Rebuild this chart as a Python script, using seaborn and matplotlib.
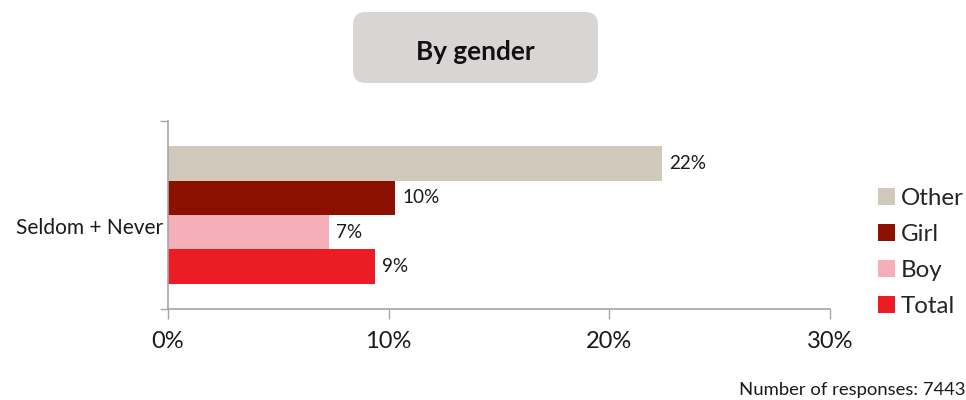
# Горизонтальні стовпці: "Seldom + Never" за статтю
import pandas as pd
import matplotlib.pyplot as plt
import seaborn as sns
from matplotlib.patches import FancyBboxPatch
from matplotlib.ticker import FuncFormatter

# Дані
categories = ['Seldom + Never']
groups = ['Other', 'Girl', 'Boy', 'Total']
values = [22.4, 10.3, 7.3, 9.4]
colors = ['#d0c9bb', '#8b1000', '#f4afb9', '#ec1c24']
n_responses = 7443

df = pd.DataFrame({'category': categories * len(groups), 'group': groups, 'value': values})

sns.set_style('white')
plt.rcParams['font.family'] = ['Lato', 'DejaVu Sans']

fig = plt.figure(figsize=(9.66, 4), dpi=100)
ax = fig.add_axes([0.1739, 0.2275, 0.6853, 0.4705])

sns.barplot(data=df, x='value', y='category', hue='group', hue_order=groups,
            palette=colors, orient='h', width=0.73, saturation=1, linewidth=0, ax=ax)

# підписи значень
for cont, v in zip(ax.containers, values):
    ax.bar_label(cont, labels=[f'{round(v)}%'], padding=5, fontsize=13.6, color='#1a1a1a')

ax.set_xlim(0, 30)
ax.set_ylim(0.5, -0.5)
ax.set_xticks([0, 10, 20, 30])
ax.xaxis.set_major_formatter(FuncFormatter(lambda x, p: f'{x:.0f}%'))
ax.tick_params(axis='x', bottom=True, labelsize=17, length=7, width=1, color='#a6a6a6',
               pad=9, labelcolor='#1a1a1a')

ax.set_yticks([-0.5, 0.5])
ax.set_yticklabels([])
ax.tick_params(axis='y', left=True, length=6, width=1, color='#a6a6a6')
ax.text(-0.008, 0.43, categories[0], transform=ax.transAxes, ha='right', va='center',
        fontsize=15, color='#1a1a1a')

ax.set_xlabel('')
ax.set_ylabel('')
sns.despine(ax=ax)
for s in ['left', 'bottom']:
    ax.spines[s].set_color('#a6a6a6')
    ax.spines[s].set_linewidth(1.2)

# легенда
handles, labels = ax.get_legend_handles_labels()
ax.legend_.remove()
fig.legend(handles, labels, loc='center left', bbox_to_anchor=(0.899, 0.369), frameon=False,
           fontsize=17.4, handlelength=0.7, handleheight=0.7, handletextpad=0.25,
           labelspacing=0.62, borderaxespad=0)

# заголовок у сірому прямокутнику
box = FancyBboxPatch((3.53, 3.17), 2.45, 0.71, boxstyle='round,pad=0,rounding_size=0.13',
                     transform=fig.dpi_scale_trans, facecolor='#d9d5d5', edgecolor='none')
fig.patches.append(box)
fig.text(4.755, 3.405, 'By gender', transform=fig.dpi_scale_trans, ha='center', va='baseline',
         fontsize=18.8, fontweight='bold', color='#111111')

fig.text(0.999, 0.025, f'Number of responses: {n_responses}', ha='right', va='center',
         fontsize=13.3, color='#1a1a1a')

plt.savefig('out.png', dpi=100)
